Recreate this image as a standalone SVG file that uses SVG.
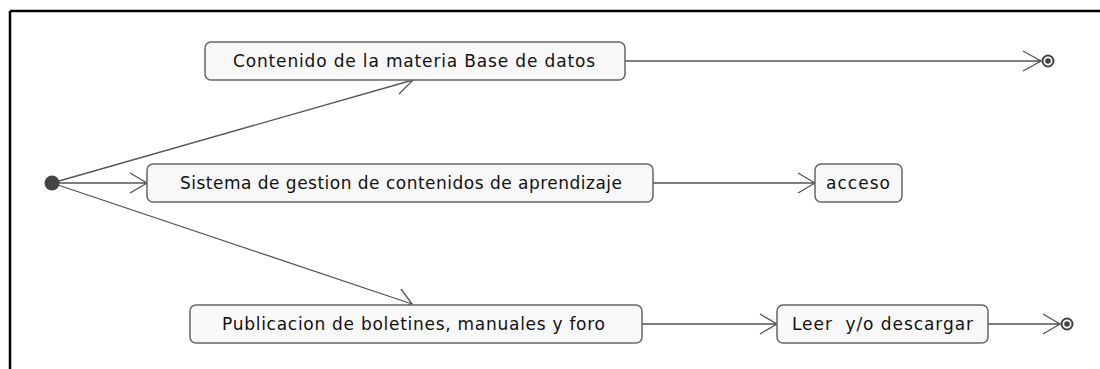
<svg xmlns="http://www.w3.org/2000/svg" width="1100" height="369" viewBox="0 0 1100 369">
<style>
.frame{stroke:#000;stroke-width:2.5;fill:none}
.edge{stroke:#555;stroke-width:1.3;fill:none}
.node rect{fill:#f8f8f8;stroke:#666;stroke-width:1.5}
.node text{font-family:"DejaVu Sans",sans-serif;font-size:17px;fill:#111;text-anchor:middle;white-space:pre}
</style>
<rect width="1100" height="369" fill="#fff"/>
<path class="frame" d="M10,11 H1100 M10,11 V369"/>
<g id="connectors">
<path class="edge" d="M52,183 L413,80 M399,94 L413,80 L394,75"/>
<path class="edge" d="M52,183 L147,183 M130,173 L147,183 L130,193"/>
<path class="edge" d="M52,183 L412,304 M401,289 L412,304 L395,309"/>
<path class="edge" d="M625,61 L1041,61 M1023,51 L1041,61 L1023,71"/>
<path class="edge" d="M653,183 L815,183 M798,173 L815,183 L798,193"/>
<path class="edge" d="M642,324 L777,324 M760,314 L777,324 L760,334"/>
<path class="edge" d="M988,324 L1060,324 M1043,314 L1060,324 L1043,334"/>
</g>
<g id="start"><circle cx="52" cy="183" r="7.5" fill="#444"/></g>
<g id="end1"><circle cx="1048" cy="61" r="5.5" fill="#fff" stroke="#444" stroke-width="2"/><circle cx="1048" cy="61" r="2.8" fill="#444"/></g>
<g id="end2"><circle cx="1067" cy="324" r="5.5" fill="#fff" stroke="#444" stroke-width="2"/><circle cx="1067" cy="324" r="2.8" fill="#444"/></g>
<g id="n1" class="node"><rect x="205" y="42" width="420" height="38" rx="6"/><text x="414" y="66.5" textLength="362" lengthAdjust="spacing">Contenido de la materia Base de datos</text></g>
<g id="n2" class="node"><rect x="147" y="164" width="506" height="38" rx="6"/><text x="401" y="188.5" textLength="442" lengthAdjust="spacing">Sistema de gestion de contenidos de aprendizaje</text></g>
<g id="n3" class="node"><rect x="815" y="164" width="87" height="38" rx="6"/><text x="858" y="188.5" textLength="64" lengthAdjust="spacing">acceso</text></g>
<g id="n4" class="node"><rect x="190" y="305" width="452" height="38" rx="6"/><text x="413.5" y="329.5" textLength="383" lengthAdjust="spacing">Publicacion de boletines, manuales y foro</text></g>
<g id="n5" class="node"><rect x="777" y="305" width="211" height="38" rx="6"/><text x="882.5" y="329.5" textLength="181" lengthAdjust="spacing">Leer  y/o descargar</text></g>
</svg>
